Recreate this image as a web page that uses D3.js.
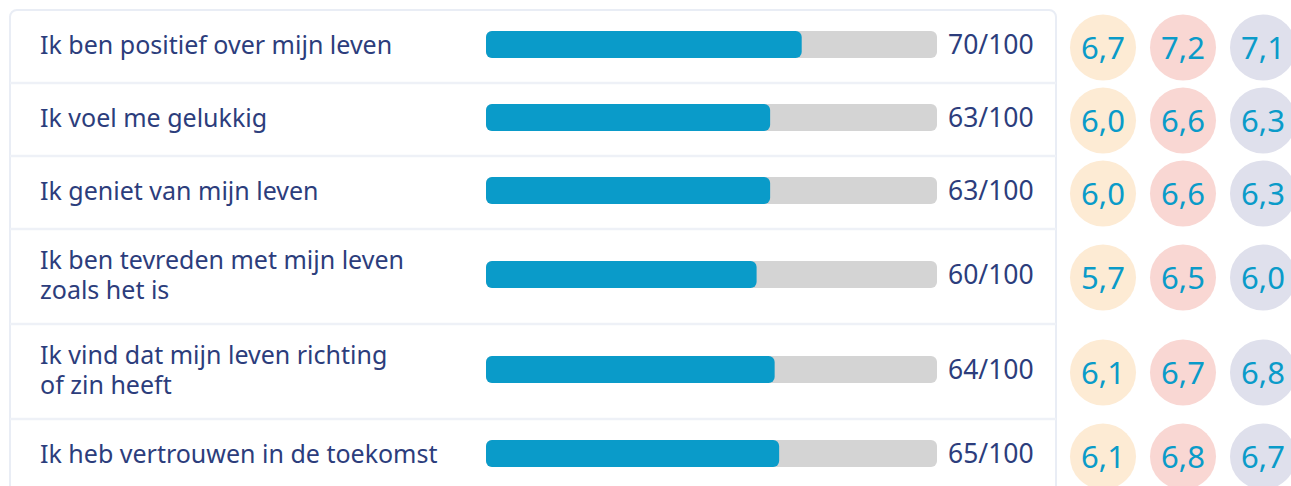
<!DOCTYPE html>
<html>
<head>
<meta charset="utf-8">
<script src="https://cdn.jsdelivr.net/npm/d3@7"></script>
<style>
  html, body { margin: 0; padding: 0; background: #fff; }
  svg { display: block; font-family: "Noto Sans", "Open Sans", sans-serif; }
</style>
</head>
<body>
<div id="chart"></div>
<script>
// ---- Data ----
const statements = [
  ["Ik ben positief over mijn leven"],
  ["Ik voel me gelukkig"],
  ["Ik geniet van mijn leven"],
  ["Ik ben tevreden met mijn leven", "zoals het is"],
  ["Ik vind dat mijn leven richting", "of zin heeft"],
  ["Ik heb vertrouwen in de toekomst"]
];
const scores = [70, 63, 63, 60, 64, 65];
const groupA = ["6,7", "6,0", "6,0", "5,7", "6,1", "6,1"];
const groupB = ["7,2", "6,6", "6,6", "6,5", "6,7", "6,8"];
const groupC = ["7,1", "6,3", "6,3", "6,0", "6,8", "6,7"];

const W = 1291, H = 486;
const NAVY = "#2c3d7c", BLUE = "#0a9bc9";
const circleFills = ["#fdebd4", "#f9d7d3", "#dfe0ec"];

const svg = d3.select("#chart").append("svg")
  .attr("width", W).attr("height", H);

// row layout: one-line rows are shorter than two-line rows
const rowH = statements.map(s => s.length > 1 ? 95 : 73);
const rowTop = [];
rowH.reduce((acc, h, i) => { rowTop[i] = acc; return acc + h; }, 10);

const card = { x: 10, y: 10, w: 1046 };

// card background and border
svg.append("rect")
  .attr("x", card.x).attr("y", card.y)
  .attr("width", card.w).attr("height", d3.sum(rowH) + 20)
  .attr("rx", 7)
  .attr("fill", "#fff")
  .attr("stroke", "#e9edf5").attr("stroke-width", 2);

// row separators
svg.selectAll("line.sep")
  .data(rowTop.slice(1))
  .join("line")
  .attr("class", "sep")
  .attr("x1", card.x).attr("x2", card.x + card.w)
  .attr("y1", d => d).attr("y2", d => d)
  .attr("stroke", "#eef1f7").attr("stroke-width", 2.5);

const x = d3.scaleLinear().domain([0, 100]).range([486, 937]);

const rows = svg.selectAll("g.row")
  .data(statements.map((s, i) => ({
    lines: s, score: scores[i], vals: [groupA[i], groupB[i], groupC[i]],
    cy: rowTop[i] + rowH[i] / 2
  })))
  .join("g")
  .attr("class", "row");

// labels (one text per line)
rows.selectAll("text.lbl")
  .data(d => d.lines.map((t, j) => ({ t, y: d.cy - 3 + (j - (d.lines.length - 1) / 2) * 30 })))
  .join("text")
  .attr("class", "lbl")
  .attr("x", 40)
  .attr("y", d => d.y)
  .attr("fill", NAVY)
  .attr("font-size", 25)
  .attr("dominant-baseline", "central")
  .text(d => d.t);

// track + bar
const barH = 27;
rows.append("rect")
  .attr("x", x(0)).attr("y", d => d.cy - 2 - barH / 2)
  .attr("width", x(100) - x(0)).attr("height", barH)
  .attr("rx", 6).attr("fill", "#d4d4d4");

rows.append("rect")
  .attr("x", x(0)).attr("y", d => d.cy - 2 - barH / 2)
  .attr("width", d => x(d.score) - x(0)).attr("height", barH)
  .attr("rx", 6).attr("fill", BLUE);

rows.append("text")
  .attr("x", 948).attr("y", d => d.cy - 3)
  .attr("dominant-baseline", "central")
  .attr("fill", NAVY).attr("font-size", 26.5)
  .text(d => d.score + "/100");

// circles with group scores
const cx = [1103, 1183, 1263];
const circ = rows.selectAll("g.c")
  .data(d => d.vals.map((v, k) => ({ v, k, cy: d.cy + 1 })))
  .join("g").attr("class", "c");

circ.append("circle")
  .attr("cx", d => cx[d.k]).attr("cy", d => d.cy)
  .attr("r", 33)
  .attr("fill", d => circleFills[d.k]);

circ.append("text")
  .attr("x", d => cx[d.k]).attr("y", d => d.cy - 1)
  .attr("text-anchor", "middle")
  .attr("dominant-baseline", "central")
  .attr("fill", BLUE).attr("font-size", 31)
  .text(d => d.v);
</script>
</body>
</html>
